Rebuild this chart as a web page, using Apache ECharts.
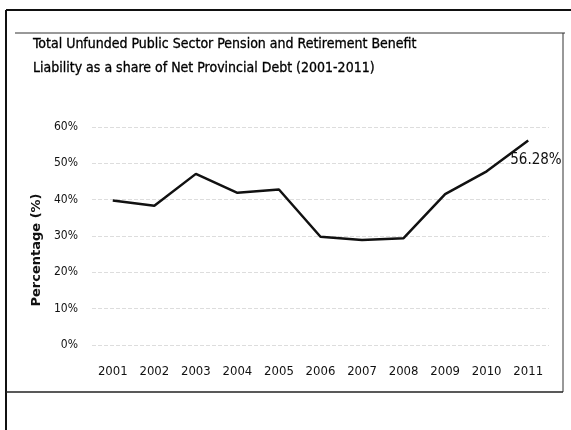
<!DOCTYPE html>
<html><head><meta charset="utf-8">
<script src="https://cdn.jsdelivr.net/npm/echarts@6/dist/echarts.min.js"></script>
<style>html,body{margin:0;padding:0;background:#fff}#c{width:571px;height:430px}</style>
</head><body><div id="c"></div>
<script>
const years = ['2001','2002','2003','2004','2005','2006','2007','2008','2009','2010','2011'];
const shares = [39.8, 38.3, 47.1, 41.9, 42.8, 29.8, 28.9, 29.4, 41.5, 47.8, 56.28];
const titleLines = ['Total Unfunded Public Sector Pension and Retirement Benefit','Liability as a share of Net Provincial Debt (2001-2011)'];
const FONT = '"Liberation Sans Narrow","DejaVu Sans Condensed",sans-serif';
const chart = echarts.init(document.getElementById('c'));
chart.setOption({
  animation: false,
  backgroundColor: '#fff',
  title: {
    text: titleLines.join('\n'), left: 33, top: 32, padding: 0,
    textStyle: { fontFamily: FONT, fontSize: 14, fontWeight: 'normal', color: '#000', lineHeight: 24, textBorderColor: '#000', textBorderWidth: 0.3 }
  },
  graphic: [
    { type: 'line', shape: { x1: 6, y1: 10, x2: 571, y2: 10 }, style: { stroke: '#111', lineWidth: 2 } },
    { type: 'line', shape: { x1: 6, y1: 10, x2: 6, y2: 430 }, style: { stroke: '#111', lineWidth: 2 } },
    { type: 'line', shape: { x1: 15, y1: 33, x2: 565, y2: 33 }, style: { stroke: '#333', lineWidth: 1 } },
    { type: 'line', shape: { x1: 563, y1: 33, x2: 563, y2: 392 }, style: { stroke: '#333', lineWidth: 1 } },
    { type: 'line', shape: { x1: 6, y1: 392, x2: 563, y2: 392 }, style: { stroke: '#222', lineWidth: 1.5 } }
  ],
  grid: { left: 92, right: 22, top: 127, bottom: 85, containLabel: false },
  xAxis: {
    type: 'category', data: years, boundaryGap: true,
    axisLine: { show: false }, axisTick: { show: false },
    axisLabel: { fontFamily: FONT, fontSize: 13, color: '#111', margin: 20 }
  },
  yAxis: {
    type: 'value', min: 0, max: 60, interval: 10,
    name: 'Percentage (%)', nameLocation: 'middle', nameGap: 40, nameRotate: 90,
    nameTextStyle: { fontFamily: '"DejaVu Sans",sans-serif', fontSize: 13, fontWeight: 'bold', color: '#111', padding: [0, 28, 0, 0] },
    axisLine: { show: false }, axisTick: { show: false },
    axisLabel: { fontFamily: FONT, fontSize: 12, color: '#111', margin: 14, formatter: v => v + '%' },
    splitLine: { lineStyle: { color: '#ddd', type: 'dashed', width: 1 } }
  },
  series: [{
    type: 'line', data: shares, symbol: 'none',
    lineStyle: { color: '#111', width: 2.5 },
    label: { show: false },
    endLabel: {
      show: true, formatter: '56.28%', fontFamily: FONT, fontSize: 15, color: '#111',
      distance: 0, offset: [-18, 20]
    }
  }]
});
</script></body></html>
